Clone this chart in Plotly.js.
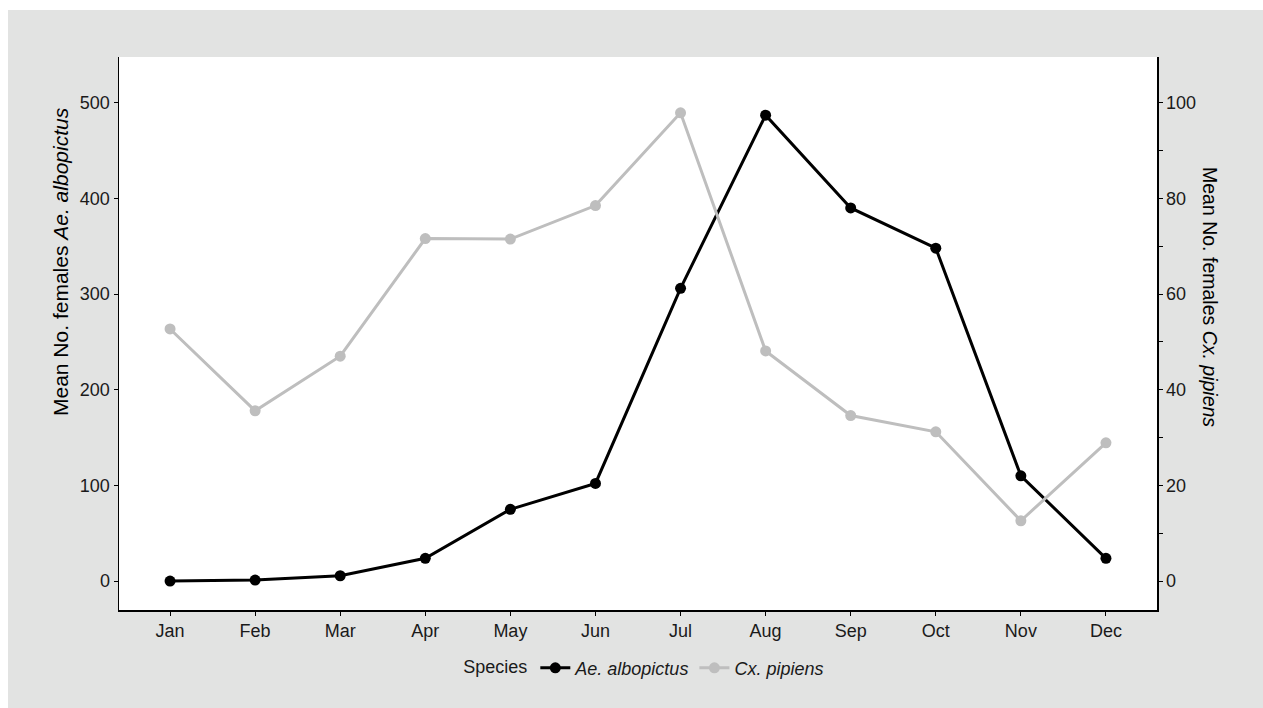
<!DOCTYPE html>
<html>
<head>
<meta charset="utf-8">
<script src="https://cdn.plot.ly/plotly-3.0.1.min.js"></script>
<style>
  html, body { margin: 0; padding: 0; background: #ffffff; }
  #chart { position: absolute; left: 8px; top: 10px; width: 1255px; height: 698px; }
</style>
</head>
<body>
<div id="chart"></div>
<script>
const months = ["Jan","Feb","Mar","Apr","May","Jun","Jul","Aug","Sep","Oct","Nov","Dec"];
const aeAlbopictus = [0, 1, 5.5, 23.7, 75, 102, 306, 487, 390, 348, 110, 23.7];
const cxPipiens = [52.7, 35.6, 47.0, 71.6, 71.5, 78.5, 97.9, 48.1, 34.6, 31.2, 12.6, 28.9];
const leftTicks = [0, 100, 200, 300, 400, 500];
const rightTicks = [0, 20, 40, 60, 80, 100];

const FONT = "Liberation Sans, Arial, sans-serif";
const leftRange = [-30.3, 547.8];
const rightRange = [leftRange[0] / 5, leftRange[1] / 5];

const traces = [
  {
    x: months, y: aeAlbopictus, yaxis: "y", type: "scatter", mode: "lines+markers",
    name: "<i>Ae. albopictus</i>",
    line: { color: "#000000", width: 3 },
    marker: { color: "#000000", size: 11 }
  },
  {
    x: months, y: cxPipiens, yaxis: "y2", type: "scatter", mode: "lines+markers",
    name: "<i>Cx. pipiens</i>",
    line: { color: "#bebebe", width: 3 },
    marker: { color: "#bebebe", size: 11 }
  }
];

const layout = {
  width: 1255, height: 698,
  paper_bgcolor: "#e2e3e2",
  plot_bgcolor: "#ffffff",
  font: { family: FONT, size: 18, color: "#1a1a1a" },
  margin: { l: 111, r: 106, t: 47, b: 98 },
  showlegend: true,
  legend: {
    orientation: "h", x: 0.507, xanchor: "center", y: -0.105, yanchor: "middle",
    bgcolor: "rgba(0,0,0,0)",
    title: { text: "Species", font: { size: 18, family: FONT } },
    font: { size: 18, family: FONT },
    itemwidth: 30
  },
  xaxis: {
    type: "category",
    range: [-0.6, 11.6],
    showgrid: false, zeroline: false,
    showline: true, linecolor: "#000000", linewidth: 1.5,
    ticks: "outside", ticklen: 4, tickcolor: "#000000", tickwidth: 1,
    tickfont: { size: 18, family: FONT, color: "#1a1a1a" },
    fixedrange: true
  },
  yaxis: {
    range: leftRange,
    tickvals: leftTicks,
    showgrid: false, zeroline: false,
    showline: true, linecolor: "#000000", linewidth: 1.5,
    ticks: "outside", ticklen: 4, tickcolor: "#000000", tickwidth: 1,
    tickfont: { size: 18, family: FONT, color: "#1a1a1a" }
  },
  yaxis2: {
    overlaying: "y", side: "right",
    range: rightRange,
    tickvals: rightTicks,
    showgrid: false, zeroline: false,
    showline: true, linecolor: "#000000", linewidth: 1.5,
    ticks: "outside", ticklen: 4, tickcolor: "#000000", tickwidth: 1,
    tickfont: { size: 18, family: FONT, color: "#1a1a1a" },
    minor: { tickvals: [10, 30, 50, 70, 90], ticks: "outside", ticklen: 4, tickcolor: "#000000", tickwidth: 1, showgrid: false }
  },
  annotations: [
    {
      text: "Mean No. females <i>Ae. albopictus</i>",
      xref: "paper", yref: "paper", x: 0, y: (610 - 262) / 553,
      xanchor: "center", yanchor: "middle", xshift: -59,
      textangle: -90, showarrow: false,
      font: { size: 21, family: FONT, color: "#000000" }
    },
    {
      text: "Mean No. females <i>Cx. pipiens</i>",
      xref: "paper", yref: "paper", x: 1, y: (610 - 297) / 553,
      xanchor: "center", yanchor: "middle", xshift: 53,
      textangle: 90, showarrow: false,
      font: { size: 19.5, family: FONT, color: "#000000" }
    }
  ]
};

Plotly.newPlot("chart", traces, layout, { displayModeBar: false, staticPlot: true });
</script>
</body>
</html>
